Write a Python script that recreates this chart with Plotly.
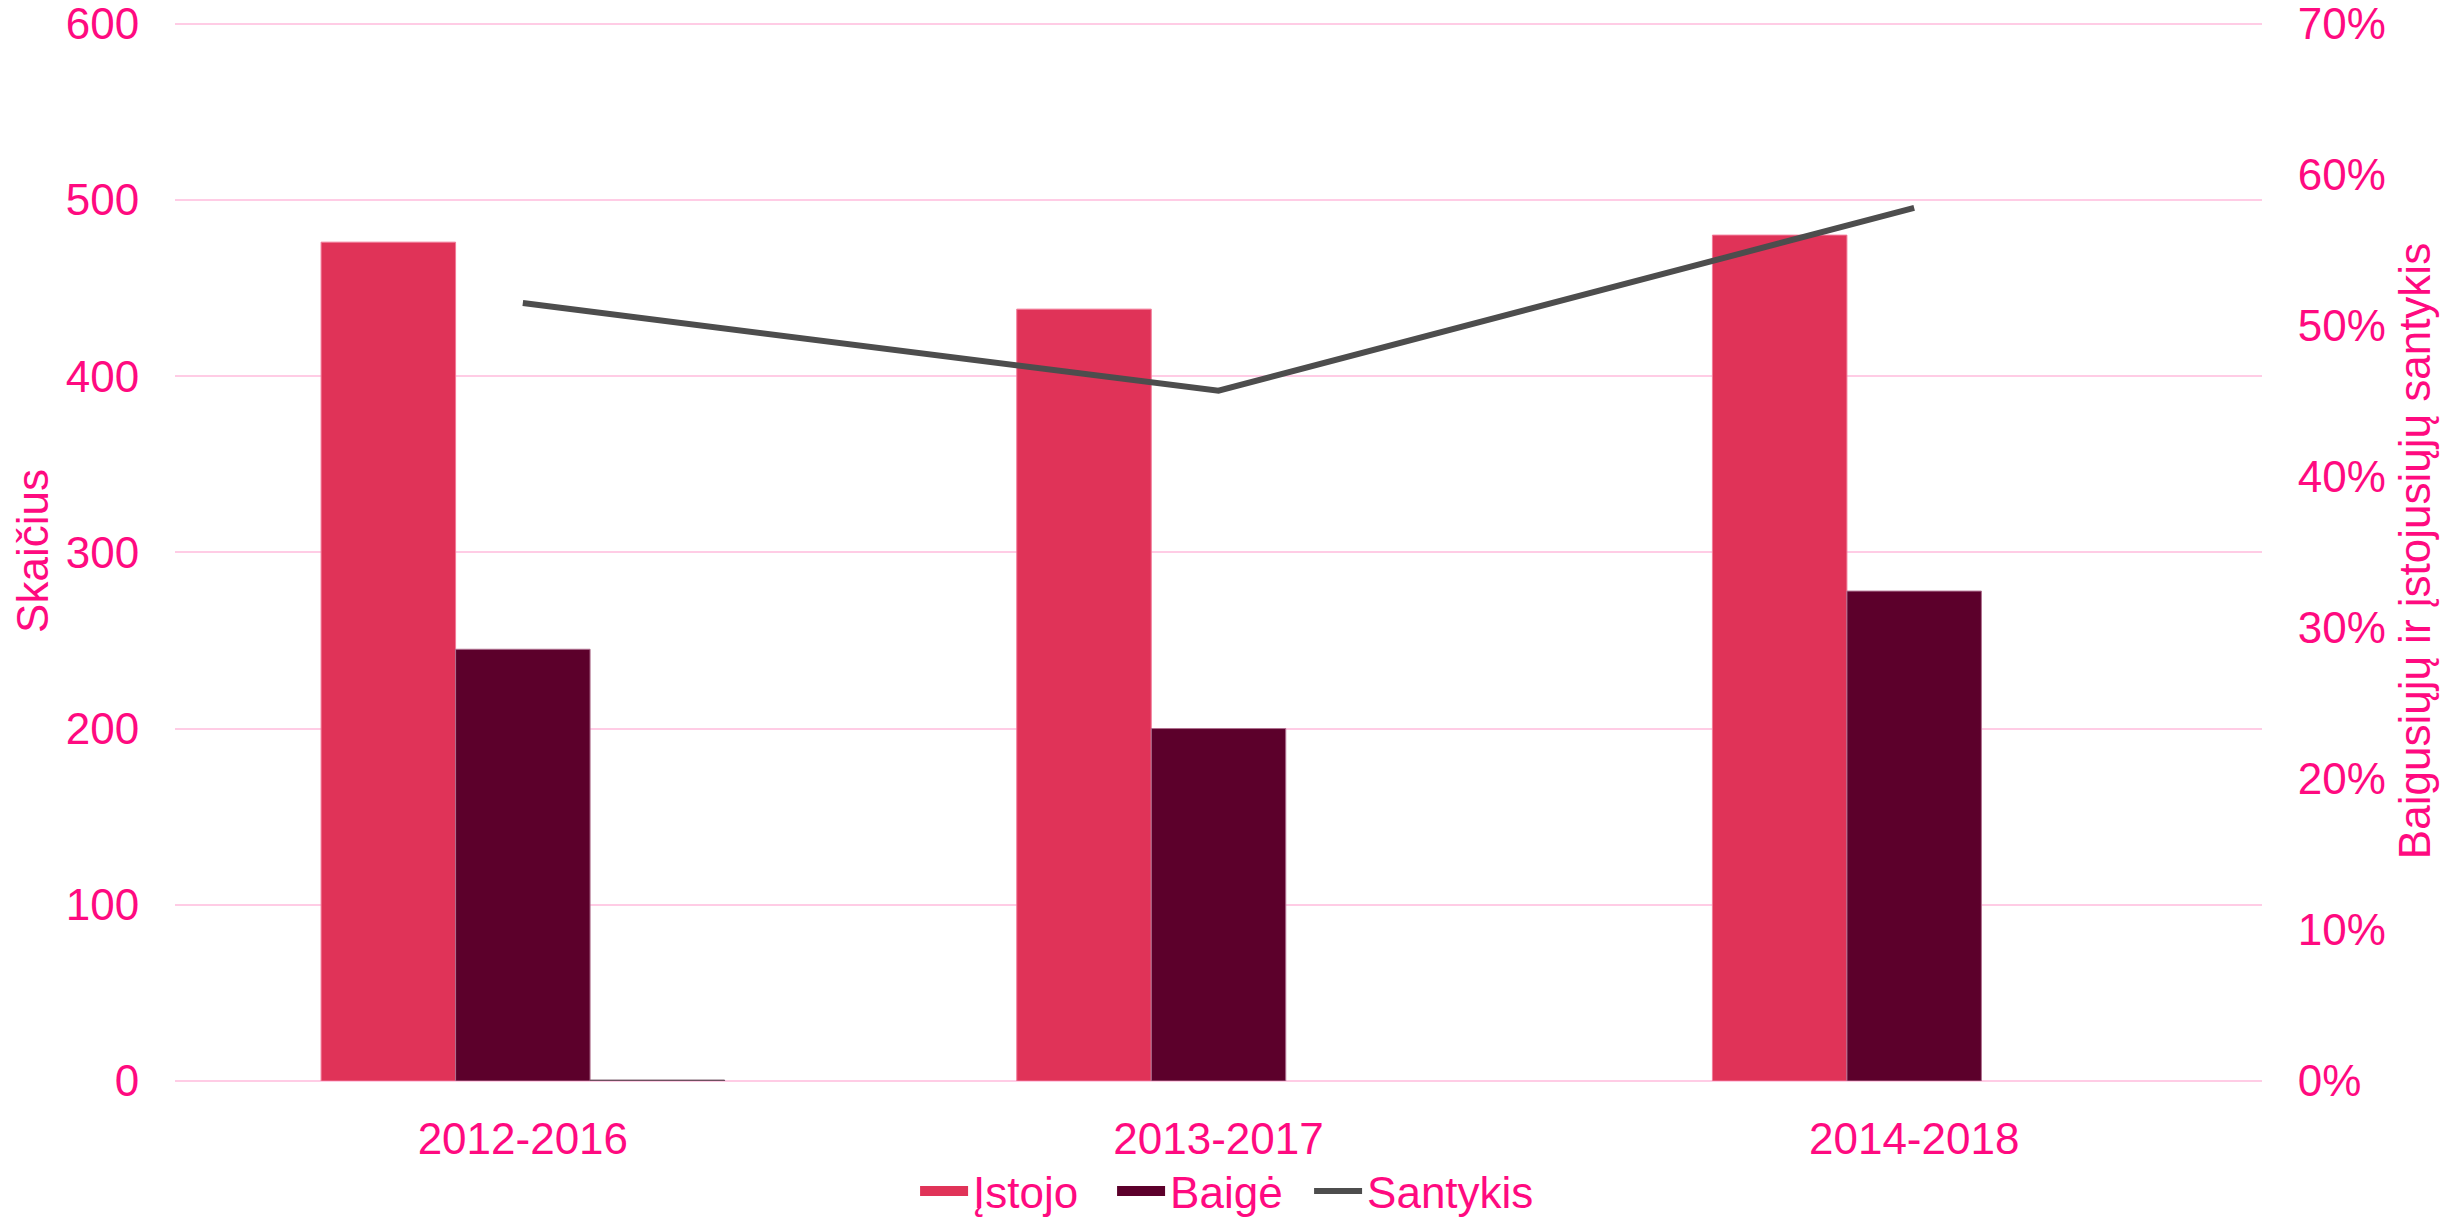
import plotly.graph_objects as go

categories = ["2012-2016", "2013-2017", "2014-2018"]
istojo = [476, 438, 480]
baige = [245, 200, 278]
santykis = [0.515, 0.457, 0.578]
santykis_bar = [0.515, None, None]

PINK = "#FF0A80"
FONT = "Liberation Sans, Arial, sans-serif"
FS = 44
C_IST = "#E03358"
C_BAI = "#5C002B"
C_LINE = "#4D4D4D"
YMAX = 601.5

fig = go.Figure()
fig.add_trace(go.Bar(x=categories, y=istojo, name="Įstojo", showlegend=False, legendgroup="a",
                     marker=dict(color=C_IST, line=dict(color="#F27A98", width=1))))
fig.add_trace(go.Bar(x=categories, y=baige, name="Baigė", showlegend=False, legendgroup="b",
                     marker=dict(color=C_BAI, line=dict(color="#B07090", width=1))))
fig.add_trace(go.Bar(x=categories, y=santykis_bar, name="Santykis", showlegend=False,
                     marker=dict(color="#6E5060", line=dict(color="#6E5060", width=1))))
fig.add_trace(go.Scatter(x=categories, y=santykis, name="Santykis", yaxis="y2", showlegend=False,
                         legendgroup="c", mode="lines", line=dict(color=C_LINE, width=6)))
# legend entries
fig.add_trace(go.Scatter(x=[None], y=[None], name="Įstojo", mode="lines", legendgroup="a",
                         line=dict(color=C_IST, width=30)))
fig.add_trace(go.Scatter(x=[None], y=[None], name="Baigė", mode="lines", legendgroup="b",
                         line=dict(color=C_BAI, width=30)))
fig.add_trace(go.Scatter(x=[None], y=[None], name="Santykis", mode="lines", legendgroup="c",
                         line=dict(color=C_LINE, width=6)))
# empty spacer entry so the last legend label is not clipped
fig.add_trace(go.Scatter(x=[None], y=[None], name=" ", mode="lines", legendgroup="d",
                         line=dict(color="rgba(0,0,0,0)", width=0), hoverinfo="skip"))

fig.update_layout(
    width=2452, height=1219,
    margin=dict(l=167, r=198, t=13, b=146),
    plot_bgcolor="white", paper_bgcolor="white",
    barmode="group", bargap=0.42, bargroupgap=0,
    font=dict(family=FONT, size=FS, color=PINK),
    xaxis=dict(type="category", showgrid=False, zeroline=False, showline=False,
               automargin=False,
               ticks="outside", ticklen=19, tickcolor="rgba(0,0,0,0)",
               tickfont=dict(size=FS, color=PINK)),
    yaxis=dict(range=[0, YMAX], dtick=100, showgrid=True, gridcolor="#FFCCE5", gridwidth=2,
               zeroline=True, zerolinecolor="#FFCCE5", zerolinewidth=2, showline=False,
               automargin=False, ticklabeloverflow="allow",
               ticks="outside", ticklen=26, tickcolor="rgba(0,0,0,0)",
               tickfont=dict(size=FS, color=PINK),
               title=dict(text="Skaičius", font=dict(size=FS, color=PINK), standoff=12)),
    yaxis2=dict(range=[0, 0.7 * YMAX / 600], dtick=0.1, tickformat=".0%", overlaying="y",
                side="right", showgrid=False, zeroline=False, showline=False,
                automargin=False, ticklabeloverflow="allow",
                ticks="outside", ticklen=26, tickcolor="rgba(0,0,0,0)",
                tickfont=dict(size=FS, color=PINK),
                title=dict(text="Baigusiųjų ir įstojusiųjų santykis",
                           font=dict(size=FS, color=PINK), standoff=14)),
    legend=dict(orientation="h", x=0.5434, xanchor="center", xref="paper",
                y=0, yanchor="bottom", yref="container",
                entrywidth=134, entrywidthmode="pixels",
                font=dict(size=FS, color=PINK), traceorder="normal", itemwidth=48),
    showlegend=True,
)

fig.write_html("out.html")
